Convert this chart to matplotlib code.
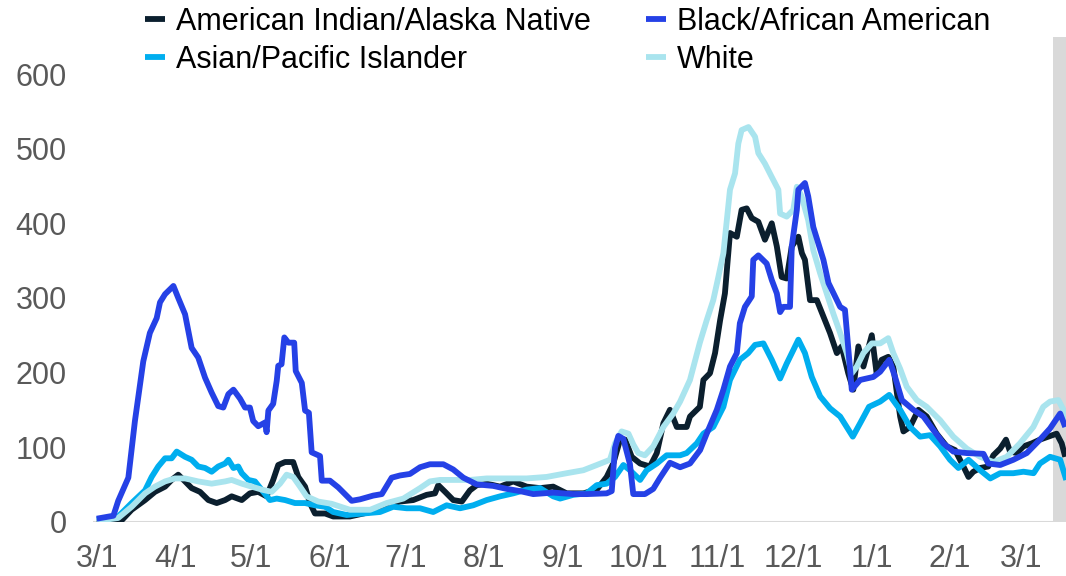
import matplotlib
matplotlib.use("Agg")
import matplotlib.pyplot as plt
import numpy as np
import pandas as pd

plt.rcParams['font.family'] = ['Liberation Sans', 'DejaVu Sans']

# days counted from 3/1/2020
aian_days = [0, 5, 9.9, 13.8, 19.1, 23, 27, 29.6, 32.2, 34.9, 37.5, 40.8, 44.1, 47.4, 50.7, 53.3, 57.3,
             60.5, 63.8, 67.1, 69.7, 71.7, 74.4, 77.6, 79.6, 82.3, 84.2, 86.2, 90.2, 93.4, 96.1, 100,
             108, 114.5, 119.8, 125, 130.3, 133.6, 134.9, 137.6, 140.8, 144.2, 147.4, 150.1, 154,
             159.3, 164.5, 169.8, 175.1, 180.3, 185.6, 192.2, 197.5, 201.4, 204, 206.7, 208.7, 211.3,
             214.6, 218.5, 221.2, 223.8, 226.4, 229.1, 233, 234.3, 238.2, 239.6, 242.2, 244.2, 246.2,
             248.1, 250.1, 252.8, 254.7, 256.7, 258.7, 261.3, 263.9, 266.6, 268.6, 270.5, 272.5,
             274.5, 277.1, 278.5, 279.7, 281.7, 284.4, 287, 289.6, 292.3, 294.2, 296.8, 298.8, 300.8,
             302.8, 306.1, 308, 310, 312.6, 314.6, 317.3, 318.6, 321.2, 324.5, 327.8, 331.7, 335.7,
             339, 342.3, 344.3, 346.2, 348.9, 352.1, 354.1, 356.8, 359.1, 360.7, 363.4, 366, 369.3,
             372.5, 375.8, 379.1, 381.1, 382.5]
aian_vals = [0, 0, 2, 16, 29, 40, 47, 56, 63, 54, 45, 40, 29, 25, 29, 34, 29,
             38, 40, 34, 56, 76, 80, 80, 60, 47, 25, 11, 11, 7, 7, 7,
             13, 22, 27, 29, 36, 38, 49, 40, 29, 27, 42, 49, 51,
             47, 54, 47, 45, 47, 38, 38, 43, 60, 78, 110, 110, 87,
             78, 74, 92, 132, 150, 127, 127, 141, 154, 190, 199, 226, 270,
             306, 387, 382, 418, 420, 407, 402, 378, 400, 369, 328, 326,
             369, 382, 360, 351, 297, 297, 275, 253, 226, 235, 199, 177, 235,
             208, 250, 199, 217, 221, 208, 141, 121, 127, 150, 141, 118, 101,
             96, 74, 60, 67, 72, 74, 89, 98, 110, 94, 92, 101, 105,
             110, 114, 118, 105, 87]

asian_days = [0, 8.5, 13.8, 19.1, 21.7, 24.3, 27, 29.6, 31.6, 34.9, 37.5, 40.1, 42.8, 45.4, 48, 50.7,
              52, 54, 55.9, 57.3, 59.9, 62.5, 65.8, 68.4, 71.1, 74.4, 78.3, 82.3, 86.2, 90.2, 93.4,
              98.7, 105.3, 111.9, 117.1, 122.4, 127.7, 132.9, 138.2, 143.5, 148.7, 154, 159.3, 164.5,
              169.8, 175.1, 180.3, 183, 188.2, 193.5, 197.5, 201.4, 204.7, 208, 210.6, 214.6, 217.2,
              221.2, 225.1, 230.4, 233, 237, 239.6, 243.5, 247.5, 250.1, 254, 257.3, 260, 263.3, 266.6,
              269.9, 272.5, 275.1, 277.1, 279.7, 282.4, 285.7, 289.6, 293.6, 296.2, 298.6, 301.5, 305,
              309.4, 313, 317.3, 321.2, 325.2, 329.1, 333.1, 337, 340.3, 344.3, 348.9, 352.9, 356.8,
              362, 366, 370, 372.5, 376.5, 380.5, 382.9]
asian_vals = [2, 7, 25, 42, 60, 74, 85, 85, 94, 87, 83, 74, 72, 67, 74, 78,
              83, 72, 74, 65, 56, 54, 40, 29, 31, 29, 25, 25, 22, 20, 13,
              9, 11, 13, 20, 18, 18, 13, 22, 18, 22, 29, 34, 38,
              43, 45, 34, 31, 36, 38, 49, 51, 60, 76, 69, 56, 69,
              78, 89, 89, 92, 105, 118, 127, 154, 190, 217, 226, 237, 239, 217,
              192, 212, 230, 244, 226, 194, 168, 152, 141, 127, 114, 132, 154,
              161, 170, 150, 127, 114, 116, 101, 83, 72, 83, 69, 58, 65,
              65, 67, 65, 78, 87, 83, 56]

black_days = [0, 6.6, 8.5, 12.5, 15.1, 18.4, 21, 23.7, 25, 27, 30.3, 32.2, 34.9, 37.5, 40.1, 42.8, 45.4,
              48, 50, 52, 54, 56.6, 58.6, 60.5, 61.8, 63.8, 66.5, 67.1, 67.8, 69.7, 71.1, 71.7, 73,
              74.1, 75.7, 78, 78.6, 81, 82.3, 83.8, 84.9, 88.2, 88.9, 92.1, 95.4, 100.7, 104, 109.2,
              112.6, 116.5, 119.8, 123.7, 127.7, 131.6, 136.9, 140.8, 144.8, 150.1, 156.6, 161.9,
              167.2, 172.4, 180.3, 188.2, 193.5, 201.4, 203.4, 204.7, 206, 208, 210.6, 211.9, 216.5,
              219.8, 222.5, 226.4, 230.4, 234.3, 238.3, 240.9, 244.9, 247.5, 250.1, 252.8, 254, 256,
              258.7, 259.3, 261.3, 264.6, 266.6, 268.6, 269.9, 271.2, 273.8, 274.5, 276.5, 277.1,
              279.7, 281, 283, 285, 287, 289, 291.6, 293.6, 295.5, 296.2, 298.2, 301.5, 306.7, 309.4,
              313, 315.3, 318, 322.5, 326.5, 330.4, 334.4, 338.3, 343.6, 350.2, 352.1, 356.8, 362,
              367.3, 372.5, 376.5, 380.5, 382.5]
black_vals = [4, 8, 28, 59, 135, 215, 253, 273, 294, 305, 316, 300, 278, 233, 220, 193, 173,
              155, 153, 171, 177, 165, 153, 153, 135, 128, 133, 120, 149, 158, 189, 209, 211,
              247, 240, 240, 202, 186, 149, 146, 93, 88, 55, 55, 46, 28, 30, 35,
              37, 59, 62, 64, 73, 77, 77, 70, 59, 50, 48, 44,
              41, 37, 39, 37, 37, 38, 41, 99, 115, 111, 77, 37, 37,
              44, 59, 79, 73, 78, 96, 118, 150, 177, 208, 226, 266, 288,
              302, 351, 357, 346, 324, 306, 281, 288, 288, 369, 418, 445,
              454, 436, 395, 373, 351, 320, 302, 288, 284, 257, 177, 190, 194, 201,
              217, 194, 163, 150, 141, 123, 105, 94, 92, 91, 78, 76, 83,
              92, 110, 125, 145, 127]

white_days = [0, 8.5, 13.8, 19.1, 23, 27, 30.9, 34.9, 40.1, 45.4, 50.7, 53.3, 57.3, 61.2, 65.2, 69.1,
              72.4, 75, 77.6, 80.3, 82.9, 87.5, 92.8, 100, 108, 114.5, 121.1, 127.7, 131.6, 135.6,
              140.8, 147.4, 154, 161.9, 169.8, 177.7, 185.6, 192.2, 197.5, 202.7, 204.7, 207.3, 210,
              212, 213.9, 216.5, 219.8, 223.8, 227.7, 230.4, 234.3, 238.2, 240.9, 243.5, 245.5, 247.5,
              249.4, 250.1, 252.1, 253.4, 254.7, 257.4, 260, 261.3, 263.9, 266.6, 269.2, 269.9, 272.5,
              275.1, 276.5, 278.4, 281, 283, 285.7, 288.3, 290.9, 293.6, 296.2, 298.2, 300.2, 302.8,
              306.1, 309.4, 312.6, 314.6, 317.3, 319.9, 323.9, 327.8, 333.1, 338.3, 343.6, 348.9,
              354.1, 359.4, 364.6, 369.9, 373.8, 376.5, 379.8, 381.8, 382.9]
white_vals = [1, 5, 20, 38, 47, 54, 58, 58, 54, 51, 54, 56, 51, 47, 43, 40,
              51, 63, 60, 47, 34, 27, 24, 16, 16, 25, 31, 45, 54, 56,
              56, 56, 58, 58, 58, 60, 65, 69, 76, 83, 105, 121, 118,
              103, 92, 89, 101, 127, 145, 161, 190, 240, 270, 297, 328, 360,
              422, 445, 467, 507, 525, 529, 516, 494, 480, 462, 445, 413, 409,
              418, 449, 436, 404, 364, 333, 306, 279, 253, 226, 199, 208, 226,
              239, 239, 246, 226, 205, 181, 163, 154, 136, 114, 98, 87,
              80, 87, 105, 127, 154, 161, 163, 150, 127]

labels = ['American Indian/Alaska Native', 'Asian/Pacific Islander', 'Black/African American', 'White']
colors = ['#0b1f2e', '#00aeef', '#2541e6', '#a9e4ee']
tick_labels = ['3/1', '4/1', '5/1', '6/1', '7/1', '8/1', '9/1', '10/1', '11/1', '12/1', '1/1', '2/1', '3/1']
shade_start = 377.6  # days after 3/1/2020, grey band at the right edge

start = pd.Timestamp('2020-03-01')


def to_dates(days):
    return start + pd.to_timedelta(np.array(days), unit='D')


fig = plt.figure(figsize=(10.66, 5.76), dpi=100)
ax = fig.add_axes([93.3 / 1066, 54.3 / 576, (1066 - 93.3) / 1066, (521.7 - 36.8) / 576])

series = [(aian_days, aian_vals), (asian_days, asian_vals), (black_days, black_vals), (white_days, white_vals)]
draw_order = [0, 1, 3, 2]
handles = {}
for i in draw_order:
    d, v = series[i]
    h, = ax.plot(to_dates(d), v, color=colors[i], lw=4.2, solid_joinstyle='round',
                 solid_capstyle='butt', label=labels[i], zorder=3 + draw_order.index(i))
    handles[i] = h

x_left = start - pd.Timedelta(days=1.34)
x_right = start + pd.Timedelta(days=382.8)
ax.axvspan(start + pd.Timedelta(days=shade_start), x_right, color='#d9d9d9', lw=0, zorder=1)
ax.axhline(0, color='#d9d9d9', lw=1.5, zorder=2)
ax.set_xlim(x_left, x_right)
ax.set_ylim(0, 650)

for s in ax.spines.values():
    s.set_visible(False)

tick_dates = pd.date_range('2020-03-01', '2021-03-01', freq='MS')
ax.set_xticks(tick_dates)
ax.set_xticklabels(tick_labels)
ax.set_yticks([0, 100, 200, 300, 400, 500, 600])
ax.tick_params(axis='both', length=0, labelsize=22, labelcolor='#595959')
ax.tick_params(axis='x', pad=16)
ax.tick_params(axis='y', pad=19)

leg = fig.legend([handles[i] for i in range(4)], labels, ncol=2, loc='upper left',
                 bbox_to_anchor=(145 / 1066, 1 - 7 / 576), frameon=False, fontsize=22,
                 handlelength=0.66, handletextpad=0.36, columnspacing=1.8,
                 labelspacing=0.25, borderpad=0, borderaxespad=0)
for lh in leg.get_lines():
    lh.set_linewidth(4.2)

fig.savefig('out.png', dpi=100)
